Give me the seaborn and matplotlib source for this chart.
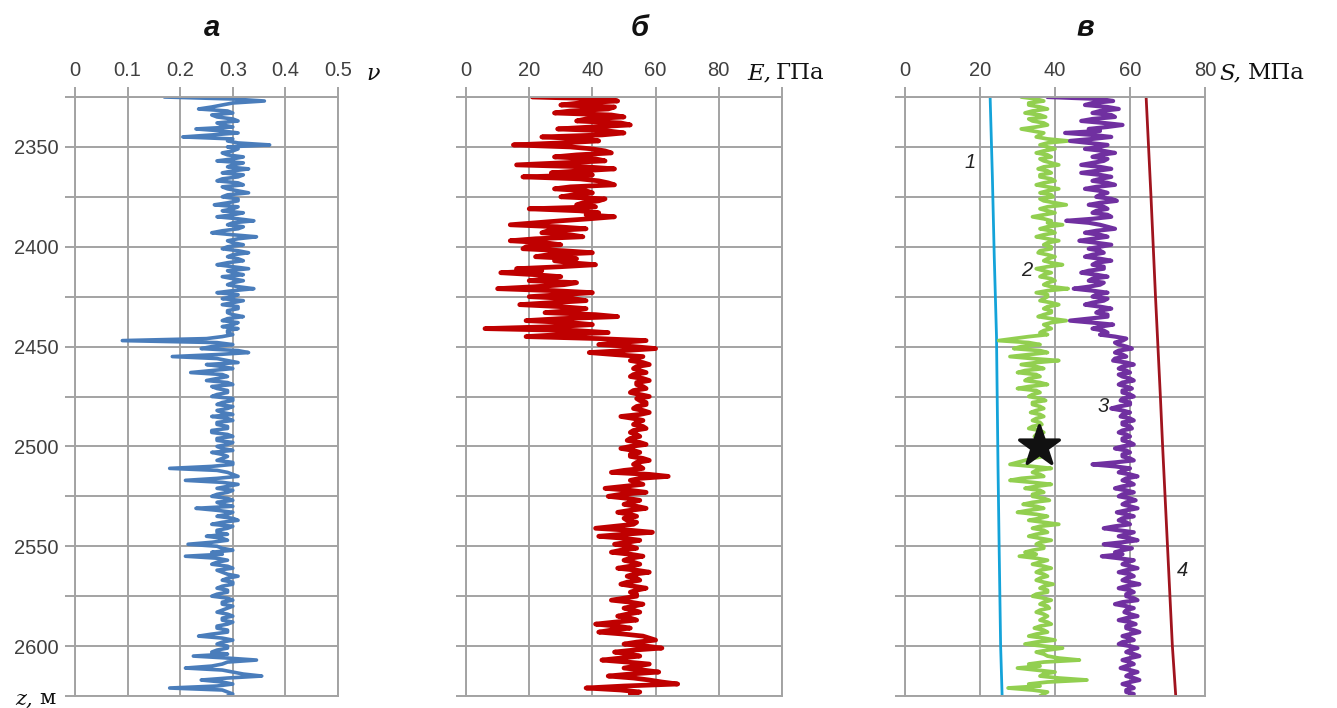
import numpy as np
import pandas as pd
import matplotlib
matplotlib.use("Agg")
import matplotlib.pyplot as plt
import seaborn as sns

# ---- well-log data (depth in m, sampled every 1 m from 2325 to 2625) ----
depth = np.arange(2325, 2626, 1)

poisson = [
    0.17, 0.30, 0.36, 0.30, 0.28, 0.26, 0.235, 0.29, 0.30, 0.26, 0.27, 0.30, 0.31, 0.27, 0.28, 0.30, 0.23, 0.28, 0.31, 0.26,
    0.205, 0.30, 0.29, 0.31, 0.37, 0.29, 0.31, 0.30, 0.28, 0.29, 0.32, 0.30, 0.27, 0.32, 0.30, 0.29, 0.33, 0.30, 0.28, 0.32,
    0.31, 0.28, 0.27, 0.31, 0.32, 0.28, 0.29, 0.31, 0.33, 0.29, 0.28, 0.31, 0.31, 0.29, 0.265, 0.31, 0.30, 0.28, 0.32, 0.30,
    0.27, 0.31, 0.34, 0.30, 0.29, 0.32, 0.31, 0.28, 0.26, 0.30, 0.345, 0.31, 0.29, 0.30, 0.32, 0.29, 0.28, 0.31, 0.33, 0.30,
    0.29, 0.31, 0.32, 0.29, 0.27, 0.30, 0.33, 0.29, 0.30, 0.32, 0.28, 0.30, 0.32, 0.30, 0.29, 0.31, 0.34, 0.30, 0.27, 0.31,
    0.30, 0.28, 0.32, 0.30, 0.28, 0.31, 0.31, 0.29, 0.29, 0.30, 0.32, 0.29, 0.28, 0.31, 0.30, 0.28, 0.31, 0.29, 0.29, 0.30,
    0.28, 0.25, 0.09, 0.27, 0.30, 0.26, 0.24, 0.31, 0.33, 0.27, 0.185, 0.27, 0.29, 0.31, 0.25, 0.28, 0.30, 0.26, 0.22, 0.28,
    0.29, 0.27, 0.25, 0.29, 0.30, 0.26, 0.27, 0.29, 0.29, 0.27, 0.26, 0.30, 0.30, 0.28, 0.27, 0.30, 0.29, 0.27, 0.28, 0.30,
    0.26, 0.29, 0.30, 0.27, 0.27, 0.29, 0.29, 0.26, 0.26, 0.29, 0.30, 0.27, 0.27, 0.30, 0.29, 0.27, 0.28, 0.30, 0.26, 0.28,
    0.29, 0.28, 0.27, 0.30, 0.30, 0.26, 0.18, 0.27, 0.29, 0.30, 0.31, 0.27, 0.21, 0.28, 0.31, 0.29, 0.27, 0.30, 0.29, 0.27,
    0.26, 0.29, 0.30, 0.27, 0.28, 0.30, 0.23, 0.27, 0.30, 0.29, 0.27, 0.30, 0.31, 0.28, 0.26, 0.30, 0.29, 0.27, 0.27, 0.29,
    0.25, 0.28, 0.29, 0.26, 0.215, 0.27, 0.28, 0.30, 0.26, 0.28, 0.21, 0.27, 0.29, 0.27, 0.26, 0.29, 0.30, 0.27, 0.28, 0.29,
    0.31, 0.29, 0.28, 0.30, 0.30, 0.28, 0.27, 0.29, 0.29, 0.27, 0.26, 0.29, 0.30, 0.28, 0.28, 0.30, 0.29, 0.28, 0.27, 0.29,
    0.30, 0.28, 0.28, 0.30, 0.29, 0.27, 0.27, 0.29, 0.29, 0.26, 0.235, 0.28, 0.30, 0.28, 0.27, 0.29, 0.29, 0.27, 0.26, 0.29,
    0.225, 0.29, 0.345, 0.29, 0.28, 0.26, 0.21, 0.28, 0.30, 0.32, 0.355, 0.29, 0.24, 0.28, 0.30, 0.27, 0.18, 0.28, 0.29, 0.30,
    0.29,
]

young = [
    21, 44, 48, 36, 30, 47, 45, 33, 28, 46, 50, 38, 35, 49, 52, 40, 29, 45, 50, 43,
    24, 38, 42, 30, 15, 33, 40, 44, 46, 35, 28, 41, 44, 30, 16, 38, 47, 36, 27, 40,
    18, 36, 42, 45, 47, 33, 28, 38, 40, 34, 30, 44, 42, 37, 35, 41, 20, 36, 42, 38,
    47, 39, 30, 22, 14, 29, 38, 26, 24, 33, 37, 22, 14, 25, 30, 19, 18, 31, 40, 26,
    22, 35, 28, 33, 41, 30, 16, 24, 11, 22, 30, 26, 20, 35, 31, 22, 10, 28, 40, 30,
    20, 34, 38, 27, 17, 30, 38, 33, 25, 41, 48, 30, 19, 33, 40, 28, 6, 35, 45, 30,
    19, 42, 57, 48, 42, 53, 60, 50, 39, 47, 56, 54, 52, 56, 58, 54, 53, 55, 57, 53,
    52, 56, 58, 54, 54, 56, 57, 53, 52, 55, 58, 54, 55, 57, 57, 54, 53, 56, 58, 55,
    49, 53, 56, 54, 53, 56, 57, 53, 52, 54, 55, 52, 51, 55, 57, 52, 49, 53, 55, 52,
    52, 56, 58, 54, 53, 55, 56, 50, 46, 58, 64, 55, 52, 54, 56, 50, 44, 52, 57, 49,
    45, 51, 55, 52, 50, 54, 57, 52, 48, 52, 54, 50, 51, 54, 53, 47, 41, 52, 59, 50,
    42, 50, 55, 51, 47, 52, 54, 49, 46, 52, 56, 52, 50, 53, 55, 52, 48, 54, 58, 53,
    51, 54, 55, 51, 49, 53, 57, 54, 52, 54, 54, 50, 46, 52, 56, 53, 50, 53, 55, 51,
    48, 52, 54, 47, 41, 48, 52, 46, 42, 50, 56, 58, 60, 54, 50, 57, 62, 53, 47, 52,
    55, 49, 43, 51, 58, 54, 50, 56, 61, 52, 45, 53, 58, 62, 67, 50, 38, 49, 55, 52,
    54,
]

stress_2 = [
    31, 35, 37, 33, 33, 36, 38, 34, 32, 36, 37.5, 33, 34, 37, 38, 35, 31, 34, 37, 36,
    35, 38, 43.5, 38, 36, 38, 40, 37, 35, 38, 39, 36, 37, 39, 41, 37, 35.5, 38, 39, 36,
    36, 39, 40, 37, 35, 38, 41, 38, 36, 39, 39.5, 36, 37, 40, 43, 38, 36, 38, 40, 37,
    34, 37, 39, 38, 42, 38, 36, 39, 40, 37, 35, 38, 41, 38, 37, 39, 39, 36, 35.5, 38,
    40, 38, 37, 39, 42, 38, 35, 37, 39, 37, 36, 39, 40, 38, 37, 39, 43.5, 38, 35, 38,
    38, 37, 36, 39, 41, 38, 37, 39, 39, 37, 35.5, 39, 43, 39, 37, 38, 39, 37, 36, 38,
    33, 29, 25, 33, 36, 31, 29, 36, 38, 33, 28, 34, 41, 35, 31, 35, 37, 32, 30, 35,
    36, 33, 32, 36, 38, 33, 30, 35, 36, 34, 33, 36, 37.5, 34, 34, 36, 37, 35, 33.5, 36,
    37, 35, 34, 36, 36.5, 34, 33, 36, 37, 35, 34.5, 37, 36, 34, 33.5, 36, 37, 35, 35, 36,
    37, 34, 32, 30, 28, 34, 39, 35, 34, 36, 37, 31, 28, 34, 39, 35, 32, 36, 37, 34,
    34, 37, 38.5, 34, 31.5, 35, 37, 33, 30, 35, 38, 36, 33, 37, 41, 36, 34, 37, 38, 35,
    33, 36, 39, 36, 35, 37, 37, 34, 32, 35, 30.5, 35, 38, 36, 34, 37, 39, 36, 35, 37,
    38, 36, 35, 37, 39.5, 37, 36, 38, 38, 35, 34, 37, 39, 37, 36, 38, 38.5, 36, 35, 37,
    38, 37, 36, 38, 39, 36, 34.5, 37, 38, 35, 33, 37, 40, 35, 32, 37, 42, 38, 35, 37,
    38, 41, 46.5, 37, 33, 36, 30, 35, 40, 37, 36, 41, 48.5, 38, 33, 36, 27.5, 34, 38, 37,
    36,
]

stress_3 = [
    38, 52, 55.5, 50, 48, 54, 57, 52, 50, 55, 56, 50, 47, 53, 58, 54, 49, 52, 42.7, 50,
    55, 50, 44, 49, 54, 52, 48, 53, 56, 52, 50, 54, 53, 50, 47, 52, 55, 51, 47, 52,
    55, 52, 50, 54, 56, 51, 48, 52, 54, 52, 51, 55, 56.5, 52, 49, 53, 54, 51, 50, 54,
    55, 50, 43, 49, 52, 54, 56, 51, 48, 52, 54, 50, 46.5, 51, 55, 52, 49, 52, 53, 50,
    48, 52, 55, 51, 50, 53, 53, 49, 47, 51, 54, 50, 49, 53, 52, 49, 45, 50, 54, 51,
    50, 54, 53, 50, 48, 52, 55, 52, 51, 54, 54, 49, 44, 50, 55.5, 52, 50, 53, 54, 52,
    56, 59, 58, 56, 57, 59, 60.5, 57, 56, 58, 59, 56, 55.5, 59, 61, 58, 57, 59, 60, 57,
    58, 60, 61, 58, 57, 59, 60.5, 58, 58, 60, 61, 58, 57.5, 60, 60, 57, 55, 58, 60, 58,
    57.5, 60, 61, 58, 58, 60, 60.5, 58, 57, 59, 60, 58, 58, 60, 61, 58, 56, 59, 60, 58,
    58, 60, 61, 56, 50, 56, 60, 58, 57, 60, 62, 59, 58, 60, 61, 58, 56, 59, 61, 58,
    57, 60, 61.5, 59, 58, 60, 62, 59, 56.5, 59, 61, 58, 57, 59, 60, 56, 53, 57, 61, 59,
    57, 60, 62, 58, 53, 57, 60.5, 58, 56, 58, 52.5, 57, 61, 59, 58, 60, 62, 59, 57, 60,
    61, 59, 58, 60, 62.5, 59, 57, 60, 61, 59, 59, 61, 62, 58, 56, 59, 61, 59, 58.5, 60,
    62, 59, 57, 60, 61.5, 59, 59, 61, 62.5, 60, 58, 60, 61, 58, 57, 60, 62, 60, 59, 61,
    62.5, 60, 58, 60, 61, 59, 57.5, 60, 62, 60, 59, 61, 62.5, 60, 58, 60, 61, 59, 59, 61,
    60,
]

stress_1_depth = [2325, 2365, 2405, 2445, 2510, 2550, 2600, 2625]
stress_1 = [22.7, 23.3, 23.8, 24.4, 24.8, 25.1, 25.5, 25.9]

stress_4_depth = [2325, 2375, 2425, 2475, 2500, 2550, 2600, 2625]
stress_4 = [64.3, 65.6, 66.8, 68.1, 68.7, 70.0, 71.3, 72.2]

star_depth = [2500]
star_stress = [35.8]

curve_labels = ["1", "2", "3", "4"]
curve_label_s = [17.3, 32.5, 52.8, 74.1]
curve_label_depth = [2358, 2412, 2480, 2562]

depth_ticks = list(range(2325, 2626, 25))
depth_ticklabels = [str(d) if d % 50 == 0 else "" for d in depth_ticks]

nu_ticks = [0, 0.1, 0.2, 0.3, 0.4, 0.5]
nu_ticklabels = ["0", "0.1", "0.2", "0.3", "0.4", "0.5"]
e_ticks = [0, 20, 40, 60, 80, 100]
e_ticklabels = ["0", "20", "40", "60", "80", ""]
s_ticks = [0, 20, 40, 60, 80]
s_ticklabels = ["0", "20", "40", "60", "80"]

logs = pd.DataFrame({"depth": depth, "nu": poisson, "E": young,
                     "S2": stress_2, "S3": stress_3})

# ---- styling ----
sns.set_style("white")
plt.rcParams["font.family"] = ["Liberation Sans", "DejaVu Sans"]

GRID = "#a3a3a3"
TICKTXT = "#404040"
W, H = 1337, 708

fig = plt.figure(figsize=(W / 100, H / 100), dpi=100)


def px_axes(x0, x1, y0=97, y1=696):
    return fig.add_axes([x0 / W, 1 - y1 / H, (x1 - x0) / W, (y1 - y0) / H])


def style_track(ax, xlim, xticks, xticklabels, show_depth):
    ax.set_xlim(*xlim)
    ax.set_ylim(2625, 2325)
    ax.xaxis.tick_top()
    ax.set_xticks(xticks)
    ax.set_xticklabels(xticklabels)
    ax.set_yticks(depth_ticks)
    ax.set_yticklabels(depth_ticklabels if show_depth else [""] * len(depth_ticks))
    ax.grid(True, color=GRID, lw=1.4)
    ax.set_axisbelow(True)
    for sp in ax.spines.values():
        sp.set_color(GRID)
        sp.set_linewidth(1.4)
    ax.tick_params(axis="both", which="both", direction="out", length=7,
                   width=1.4, color=GRID, labelcolor=TICKTXT, labelsize=14.5,
                   pad=5)
    ax.tick_params(axis="x", top=True, bottom=False, labeltop=True,
                   labelbottom=False)
    ax.tick_params(axis="y", left=True, right=False)
    ax.set_xlabel("")
    ax.set_ylabel("")


LOG_KW = dict(sort=False, estimator=None, orient="y",
              solid_joinstyle="round")

# track a: Poisson's ratio
ax_a = px_axes(75, 338)
sns.lineplot(data=logs, x="nu", y="depth", color="#4a7dbb", lw=2.6,
             ax=ax_a, **LOG_KW)
style_track(ax_a, (0, 0.5), nu_ticks, nu_ticklabels, True)

# track б: Young's modulus
ax_b = px_axes(466, 782)
sns.lineplot(data=logs, x="E", y="depth", color="#bf0000", lw=3.4,
             ax=ax_b, **LOG_KW)
style_track(ax_b, (0, 100), e_ticks, e_ticklabels, False)

# track в: stresses
ax_c = px_axes(905, 1205)
sns.lineplot(x=stress_1, y=stress_1_depth, sort=False, estimator=None,
             orient="y", color="#14a3d9", lw=2.0, ax=ax_c)
sns.lineplot(data=logs, x="S2", y="depth", color="#92cf50", lw=2.7,
             ax=ax_c, **LOG_KW)
sns.lineplot(data=logs, x="S3", y="depth", color="#7030a0", lw=3.0,
             ax=ax_c, **LOG_KW)
sns.lineplot(x=stress_4, y=stress_4_depth, sort=False, estimator=None,
             orient="y", color="#a0141e", lw=2.0, ax=ax_c)
sns.scatterplot(x=star_stress, y=star_depth, marker="*", s=900,
                color="#111111", edgecolor="#111111", zorder=5, ax=ax_c)
style_track(ax_c, (0, 80), s_ticks, s_ticklabels, False)
for lab, sx, dz in zip(curve_labels, curve_label_s, curve_label_depth):
    ax_c.text(sx, dz, lab, fontsize=14.5, style="italic", color="#222222",
              ha="center", va="center")

# panel letters
for lab, xp in zip(["а", "б", "в"], [212, 640, 1085]):
    fig.text(xp / W, 1 - 28 / H, lab, fontsize=21, fontweight="bold",
             style="italic", ha="center", va="center", color="#111111")

# axis quantity labels
SERIF = ["DejaVu Serif"]
INK = "#111111"
fig.text(366 / W, 1 - 74 / H, "ν", family=SERIF, style="italic",
         fontsize=16, ha="left", va="center", color=INK)
fig.text(747 / W, 1 - 73 / H, "E,", family=SERIF, style="italic",
         fontsize=16.5, ha="left", va="center", color=INK)
fig.text(776 / W, 1 - 73 / H, "ГПа", family=SERIF,
         fontsize=16.5, ha="left", va="center", color=INK)
fig.text(1219 / W, 1 - 73 / H, "S,", family=SERIF, style="italic",
         fontsize=16.5, ha="left", va="center", color=INK)
fig.text(1248 / W, 1 - 73 / H, "МПа", family=SERIF,
         fontsize=16.5, ha="left", va="center", color=INK)
fig.text(15 / W, 1 - 699 / H, "z,", family=SERIF, style="italic",
         fontsize=15, ha="left", va="center", color=INK)
fig.text(39 / W, 1 - 699 / H, "м", family=SERIF,
         fontsize=15, ha="left", va="center", color=INK)

fig.savefig("out.png", dpi=100, facecolor="white")
